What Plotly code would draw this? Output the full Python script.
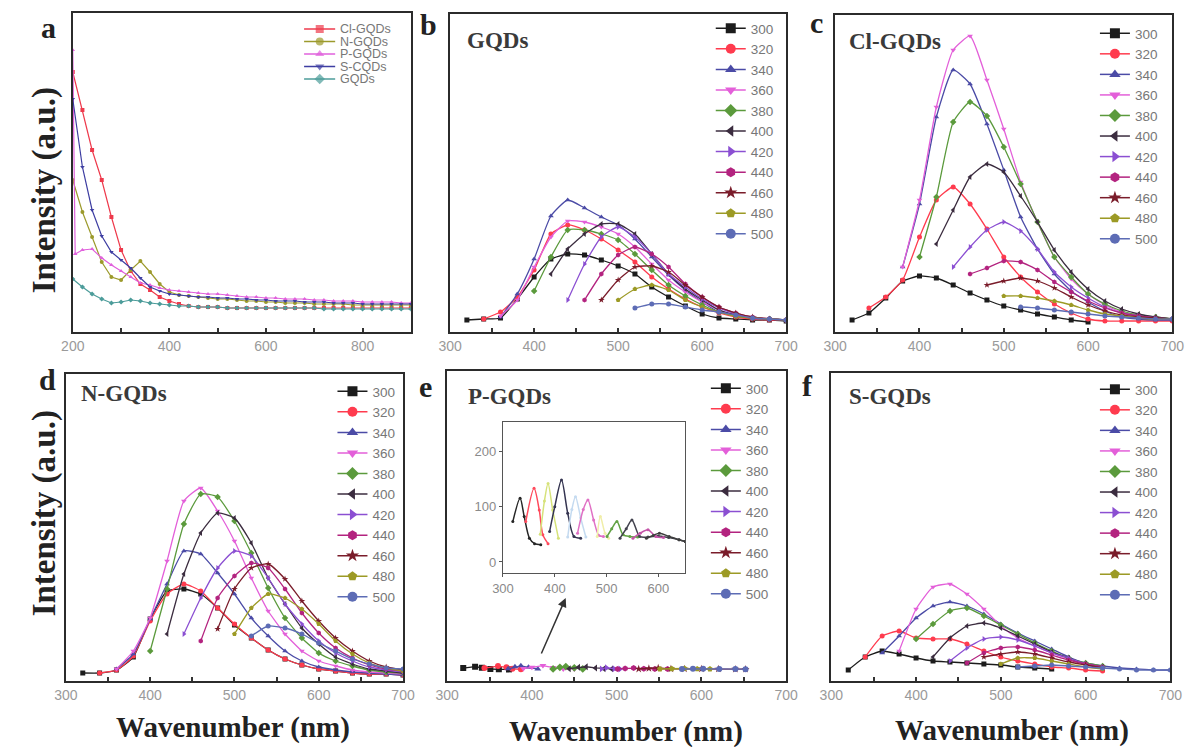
import plotly.graph_objects as go

W, H = 1201, 747

# ---------------- data ----------------
EXC = ["300", "320", "340", "360", "380", "400", "420", "440", "460", "480", "500"]
EXC_COLORS = ["#1c1c1c", "#ff3b4e", "#4b4ba6", "#e35fd9", "#5b9a3c", "#3b2c3f",
              "#8b4fd2", "#b3237f", "#7a1c2a", "#9c9a25", "#5d6cb5"]
EXC_SYMBOLS = ["square", "circle", "triangle-up", "triangle-down", "diamond", "triangle-left",
               "triangle-right", "hexagon", "star", "pentagon", "circle"]

# panel a: UV-vis absorption
A_NAMES = ["Cl-GQDs", "N-GQDs", "P-GQDs", "S-CQDs", "GQDs"]
A_COLORS = ["#ee3a4c", "#9c9a2c", "#e060dc", "#3e3ea2", "#4c9c9a"]
A_SYMBOLS = ["square", "circle", "triangle-up", "triangle-down", "diamond"]
A_X = list(range(200, 901, 20))
A_X_P = [200, 205] + list(range(220, 901, 20))
A_CL = [260, 222, 182, 152, 115, 82, 61, 48, 42, 35, 31, 28, 26, 25, 25, 25] + [24] * 20
A_N = [152, 120, 95, 70, 55, 52, 62, 71, 60, 48, 40, 37, 36, 35, 34, 33, 33, 32, 31, 31,
       30, 30, 29, 29, 29, 28, 28, 28, 28, 27, 27, 27, 27, 27, 27, 27]
A_P = [282, 78, 82, 83, 74, 67, 61, 55, 49, 47, 44, 42, 41, 40, 39, 38, 38, 37, 36, 35, 35,
       34, 34, 33, 33, 33, 32, 32, 31, 31, 31, 30, 30, 30, 30, 29, 29]
A_S = [233, 165, 122, 96, 80, 72, 64, 54, 45, 41, 38, 37, 36, 35, 35, 34, 34, 33, 33, 32,
       32, 31, 31, 31, 30, 30, 30, 29, 29, 29, 28, 28, 28, 28, 28, 28]
A_G = [53, 45, 38, 33, 29, 30, 32, 31, 29, 28, 27, 26, 26, 25, 25, 25, 24, 24, 24, 24,
       24, 24, 24, 24, 24, 24, 23, 23, 23, 23, 23, 23, 23, 23, 23, 23]

# panel b: GQDs emission (start wavelength, 20 nm steps)
B_START = [320, 340, 360, 360, 400, 420, 440, 460, 480, 500, 520]
B_Y = [
    [12, 13, 14, 33, 55, 73, 78, 77, 72, 66, 58, 45, 35, 26, 18, 14, 13, 12, 12, 11],
    [13, 20, 35, 62, 98, 107, 102, 93, 82, 70, 55, 43, 33, 25, 19, 15, 13, 12, 12],
    [15, 38, 73, 116, 132, 124, 115, 107, 93, 75, 57, 42, 30, 20, 17, 14, 13, 12],
    [16, 32, 65, 95, 111, 110, 105, 98, 85, 68, 52, 40, 30, 22, 17, 14, 13, 12],
    [41, 75, 102, 102, 98, 92, 78, 62, 47, 36, 27, 20, 16, 14, 13, 12],
    [58, 83, 98, 108, 108, 98, 78, 58, 43, 32, 22, 17, 14, 13, 12],
    [32, 68, 95, 105, 95, 78, 58, 45, 33, 24, 18, 14, 13, 12],
    [32, 58, 77, 85, 78, 65, 48, 35, 25, 19, 15, 13, 12],
    [32, 52, 65, 66, 60, 47, 35, 25, 19, 15, 13, 12],
    [32, 43, 47, 42, 32, 25, 20, 16, 14, 13, 12],
    [24, 28, 28, 25, 22, 20, 17, 14, 13, 12],
]

# panel c: Cl-GQDs
C_START = [320, 340, 380, 380, 400, 420, 440, 460, 480, 500, 520]
C_Y = [
    [12, 19, 34, 51, 56, 54, 47, 39, 32, 26, 22, 18, 15, 12, 10],
    [24, 35, 52, 95, 132, 145, 128, 103, 75, 55, 40, 28, 19, 13, 11, 11, 11, 11, 11],
    [65, 128, 215, 262, 248, 208, 162, 115, 83, 58, 41, 30, 21, 15, 13, 12, 12],
    [65, 132, 225, 282, 296, 252, 203, 150, 110, 75, 53, 38, 27, 20, 17, 14, 13],
    [75, 135, 210, 230, 216, 185, 148, 110, 75, 55, 38, 28, 21, 17, 15, 13],
    [88, 122, 155, 168, 160, 136, 110, 82, 60, 43, 31, 23, 18, 15, 13],
    [65, 85, 102, 110, 101, 83, 60, 45, 34, 25, 19, 16, 14, 13],
    [58, 64, 71, 70, 62, 50, 40, 31, 24, 19, 16, 14, 13],
    [47, 51, 54, 51, 44, 35, 27, 21, 17, 15, 14, 13],
    [36, 36, 34, 31, 27, 22, 18, 16, 14, 13, 13],
    [25, 24, 22, 20, 18, 16, 15, 14, 13, 13],
]

# panel d: N-GQDs
D_START = [320, 340, 360, 360, 400, 420, 440, 460, 480, 500, 520]
D_Y = [
    [8, 8, 11, 24, 62, 90, 92, 87, 73, 56, 43, 31, 22, 16, 12, 10, 8, 7, 7, 6],
    [8, 11, 25, 60, 87, 97, 90, 73, 57, 43, 31, 22, 16, 12, 10, 8, 7, 7, 6],
    [12, 27, 62, 97, 130, 127, 108, 87, 63, 45, 30, 20, 14, 11, 9, 8, 7, 6],
    [12, 30, 63, 120, 180, 193, 170, 140, 103, 70, 47, 30, 20, 15, 11, 9, 8, 7],
    [30, 92, 157, 187, 184, 160, 128, 93, 63, 43, 28, 20, 15, 11, 9, 8],
    [47, 107, 148, 168, 163, 138, 103, 77, 53, 37, 24, 17, 12, 10, 8],
    [47, 83, 113, 130, 125, 103, 77, 57, 40, 28, 20, 14, 11, 9],
    [40, 83, 105, 118, 113, 92, 68, 48, 33, 23, 16, 12, 10],
    [52, 92, 113, 117, 102, 80, 60, 43, 30, 20, 14, 11],
    [47, 73, 87, 83, 72, 57, 40, 27, 18, 13, 10],
    [45, 55, 53, 47, 38, 30, 22, 17, 13, 12],
]

# panel e (and inset): P-GQDs
E_X = [
    [319, 333, 341, 351, 361, 373],
    [344, 360, 370, 377, 387],
    [372, 380, 387, 396, 407],
    [390, 400, 413, 425, 437, 450],
    [425, 433, 440, 450, 460],
    [444, 455, 464, 475, 485, 494],
    [482, 488, 497, 504],
    [501, 510, 520, 532, 545, 560],
    [526, 538, 549, 564, 580, 600, 620, 640, 652],
    [551, 565, 580, 595, 610],
    [577, 590, 602, 621, 640, 652],
]
E_Y = [
    [73, 115, 82, 43, 33, 31],
    [73, 133, 94, 49, 33],
    [50, 110, 142, 94, 43],
    [55, 100, 148, 88, 46, 43],
    [45, 95, 118, 80, 45],
    [52, 95, 112, 76, 48, 46],
    [46, 82, 52, 43],
    [46, 60, 73, 49, 46, 45],
    [43, 60, 76, 46, 45, 47, 44, 40, 37],
    [43, 52, 58, 46, 44],
    [43, 48, 52, 46, 40, 37],
]
INSET_COLORS = ["#262626", "#ff4a5c", "#d6e27a", "#343450", "#c4daf0", "#e070c4",
                "#f0eea8", "#62a244", "#42424e", "#c454a8", "#3e3e3e"]

# panel f: S-GQDs
F_START = [320, 340, 360, 380, 400, 420, 440, 460, 480, 500, 520]
F_Y = [
    [11, 24, 30, 27, 23, 20, 19, 18, 17, 16, 14, 13, 12],
    [24, 45, 50, 43, 42, 42, 37, 30, 24, 20, 17, 14, 13, 11, 10],
    [28, 45, 63, 75, 79, 75, 67, 57, 48, 40, 32, 24, 18, 15, 13, 12, 11, 11],
    [30, 72, 94, 97, 87, 72, 55, 43, 35, 28, 22, 17, 13],
    [42, 57, 70, 73, 65, 56, 47, 38, 30, 23, 18, 15],
    [24, 43, 55, 58, 53, 45, 37, 29, 23, 17, 14],
    [20, 33, 42, 44, 41, 35, 28, 23, 17, 14],
    [18, 28, 33, 34, 31, 26, 21, 17, 14],
    [24, 27, 29, 27, 23, 19, 16, 13],
    [17, 23, 23, 20, 17, 14, 12],
    [14, 15, 16, 15, 14, 13, 12, 11, 11, 11],
]

# ---------------- helpers ----------------
SERIF = "Liberation Serif, Times New Roman, serif"
SANS = "Liberation Sans, Arial, sans-serif"


def xd(p0, p1):
    return [p0 / W, p1 / W]


def yd(top, bottom):
    return [1 - bottom / H, 1 - top / H]


fig = go.Figure()


def add_legend_entries(xa, ya, legend_id):
    # legend-only entries (no data), so legend symbols can be larger than plot markers
    for i in range(len(EXC)):
        fig.add_trace(go.Scatter(
            x=[None], y=[None], xaxis=xa, yaxis=ya, mode="lines+markers", name=EXC[i],
            line=dict(color=EXC_COLORS[i], width=1.5),
            marker=dict(symbol=EXC_SYMBOLS[i], size=10, color=EXC_COLORS[i], line=dict(width=0)),
            legend=legend_id, showlegend=True, hoverinfo="skip"))


def add_panel(starts, ys, xa, ya, legend_id):
    for i, (s, yv) in enumerate(zip(starts, ys)):
        xv = list(range(s, s + 20 * len(yv), 20))
        fig.add_trace(go.Scatter(
            x=xv, y=yv, xaxis=xa, yaxis=ya, mode="lines+markers", name=EXC[i],
            line=dict(color=EXC_COLORS[i], width=1.3, shape="spline", smoothing=0.5),
            marker=dict(symbol=EXC_SYMBOLS[i], size=5, color=EXC_COLORS[i], line=dict(width=0)),
            showlegend=False))
    add_legend_entries(xa, ya, legend_id)


# panel a traces
for name, xv, yv, col, sym in zip(A_NAMES, [A_X, A_X, A_X_P, A_X, A_X],
                                  [A_CL, A_N, A_P, A_S, A_G], A_COLORS, A_SYMBOLS):
    fig.add_trace(go.Scatter(x=xv, y=yv, xaxis="x", yaxis="y", mode="lines+markers",
                             line=dict(color=col, width=1.2),
                             marker=dict(symbol=sym, size=4, color=col, line=dict(width=0)),
                             showlegend=False, name=name))

add_panel(B_START, B_Y, "x2", "y2", "legend")
add_panel(C_START, C_Y, "x3", "y3", "legend2")
add_panel(D_START, D_Y, "x4", "y4", "legend3")

# panel e main
for i, (xv, yv) in enumerate(zip(E_X, E_Y)):
    fig.add_trace(go.Scatter(
        x=xv, y=yv, xaxis="x5", yaxis="y5", mode="lines+markers", name=EXC[i],
        line=dict(color=EXC_COLORS[i], width=1.3),
        marker=dict(symbol=EXC_SYMBOLS[i], size=6, color=EXC_COLORS[i], line=dict(width=0)),
        showlegend=False))
add_legend_entries("x5", "y5", "legend4")
# inset
for i, (xv, yv) in enumerate(zip(E_X, E_Y)):
    fig.add_trace(go.Scatter(
        x=xv, y=yv, xaxis="x7", yaxis="y7", mode="lines+markers", name=EXC[i],
        line=dict(color=INSET_COLORS[i], width=1.5, shape="spline", smoothing=0.8),
        marker=dict(size=3, color=INSET_COLORS[i]), showlegend=False))

add_panel(F_START, F_Y, "x6", "y6", "legend5")

# manual legend for panel a
for i, (name, col, sym) in enumerate(zip(A_NAMES, A_COLORS, A_SYMBOLS)):
    fig.add_trace(go.Scatter(x=[0, 0.5, 1], y=[i, i, i], xaxis="x8", yaxis="y8",
                             mode="lines+markers", line=dict(color=col, width=1.3),
                             marker=dict(symbol=sym, size=[0, 8, 0], color=col, line=dict(width=0)),
                             showlegend=False, hoverinfo="skip"))

# ---------------- axes ----------------
tickfont = dict(family=SANS, size=14, color="#9a9a9a")


def xaxis(dom, rng, dtick, minor, anchor):
    return dict(domain=dom, range=rng, anchor=anchor, dtick=dtick, tick0=rng[0],
                showline=True, linecolor="#2b2b2b", linewidth=2, mirror=True,
                showgrid=False, zeroline=False, ticks="inside", ticklen=4, tickwidth=1.5,
                tickcolor="#333", tickfont=tickfont,
                minor=dict(ticks="inside", ticklen=4, tickwidth=1.5, tickcolor="#333",
                           dtick=minor, tick0=rng[0], showgrid=False))


def yaxis(dom, rng, anchor):
    return dict(domain=dom, range=rng, anchor=anchor, showline=True, linecolor="#2b2b2b",
                linewidth=2, mirror=True, showgrid=False, zeroline=False, ticks="",
                showticklabels=False)


layout_axes = dict(
    xaxis=xaxis(xd(62, 407), [200, 900], 200, 100, "y"),
    yaxis=yaxis(yd(13, 332), [0, 319], "x"),
    xaxis2=xaxis(xd(447, 790), [300, 700], 100, 50, "y2"),
    yaxis2=yaxis(yd(14, 332), [0, 318], "x2"),
    xaxis3=xaxis(xd(840, 1184), [300, 700], 100, 50, "y3"),
    yaxis3=yaxis(yd(15, 332), [0, 317], "x3"),
    xaxis4=xaxis(xd(55, 399), [300, 700], 100, 50, "y4"),
    yaxis4=yaxis(yd(374, 681), [0, 307], "x4"),
    xaxis5=xaxis(xd(444, 790), [300, 700], 100, 50, "y5"),
    yaxis5=yaxis(yd(371, 681), [-330, 9300], "x5"),
    xaxis6=xaxis(xd(836, 1182), [300, 700], 100, 50, "y6"),
    yaxis6=yaxis(yd(373, 681), [0, 308], "x6"),
    xaxis7=dict(domain=xd(501, 687), range=[300, 652], anchor="y7", dtick=100, tick0=300,
                showline=True, linecolor="#555", linewidth=1.2, mirror=True, showgrid=False,
                zeroline=False, ticks="outside", ticklen=3, tickcolor="#555",
                tickfont=dict(family=SANS, size=13, color="#8a8a8a")),
    yaxis7=dict(domain=yd(422, 573), range=[-20, 253], anchor="x7", tickvals=[0, 100, 200],
                showline=True, linecolor="#555", linewidth=1.2, mirror=True, showgrid=False,
                zeroline=False, ticks="outside", ticklen=3, tickcolor="#555",
                tickfont=dict(family=SANS, size=13, color="#8a8a8a")),
    xaxis8=dict(domain=xd(298, 330), range=[0, 1], anchor="y8", visible=False),
    yaxis8=dict(domain=yd(23, 85), range=[4.48, -0.48], anchor="x8", visible=False),
)


def leg(xpx, ytop):
    return dict(x=xpx / W, y=1 - ytop / H, xanchor="left", yanchor="top",
                bgcolor="rgba(0,0,0,0)", borderwidth=0, itemsizing="trace",
                tracegroupgap=0, traceorder="normal",
                font=dict(family=SANS, size=13.5, color="#777"))


# ---------------- annotations ----------------
ann = []
for txt, cx, cy in [("a", 37, 27), ("b", 425, 25), ("c", 821, 22),
                    ("d", 36, 379), ("e", 422, 386), ("f", 812, 385)]:
    ann.append(dict(text="<b>%s</b>" % txt, x=cx / W, y=1 - cy / H, xref="paper", yref="paper",
                    showarrow=False, xanchor="center", yanchor="middle",
                    font=dict(family=SERIF, size=30, color="#222")))
for txt, lx, cy in [("GQDs", 462, 40), ("Cl-GQDs", 852, 41), ("N-GQDs", 68, 393),
                    ("P-GQDs", 463, 396), ("S-GQDs", 852, 396)]:
    ann.append(dict(text="<b>%s</b>" % txt, x=lx / W, y=1 - cy / H, xref="paper", yref="paper",
                    showarrow=False, xanchor="left", yanchor="middle",
                    font=dict(family=SERIF, size=23, color="#3a3a3a")))
for cy in [190, 513]:
    ann.append(dict(text="<b>Intensity (a.u.)</b>", x=33 / W, y=1 - cy / H, xref="paper",
                    yref="paper", showarrow=False, textangle=-90, xanchor="center",
                    yanchor="middle", font=dict(family=SERIF, size=33, color="#222")))
for cx, cy in [(225, 727), (627, 731), (1020, 730)]:
    ann.append(dict(text="<b>Wavenumber (nm)</b>", x=cx / W, y=1 - cy / H, xref="paper",
                    yref="paper", showarrow=False, xanchor="center", yanchor="middle",
                    font=dict(family=SERIF, size=29, color="#222")))
for i, name in enumerate(A_NAMES):
    ann.append(dict(text=name, x=1, y=i, xref="x8", yref="y8", xanchor="left", yanchor="middle",
                    xshift=3, showarrow=False, font=dict(family=SANS, size=12.5, color="#777")))
ann.append(dict(text="", x=565 / W, y=1 - 598 / H, xref="paper", yref="paper", ax=-25, ay=57,
                showarrow=True, arrowhead=2, arrowsize=1.2, arrowwidth=1.5, arrowcolor="#333"))

fig.update_layout(
    width=W, height=H, margin=dict(l=0, r=0, t=0, b=0),
    paper_bgcolor="white", plot_bgcolor="white",
    legend=leg(713, 13), legend2=leg(1105, 18), legend3=leg(327, 376),
    legend4=leg(708, 373), legend5=leg(1105, 374),
    annotations=ann, **layout_axes)

fig.write_html("out.html")
